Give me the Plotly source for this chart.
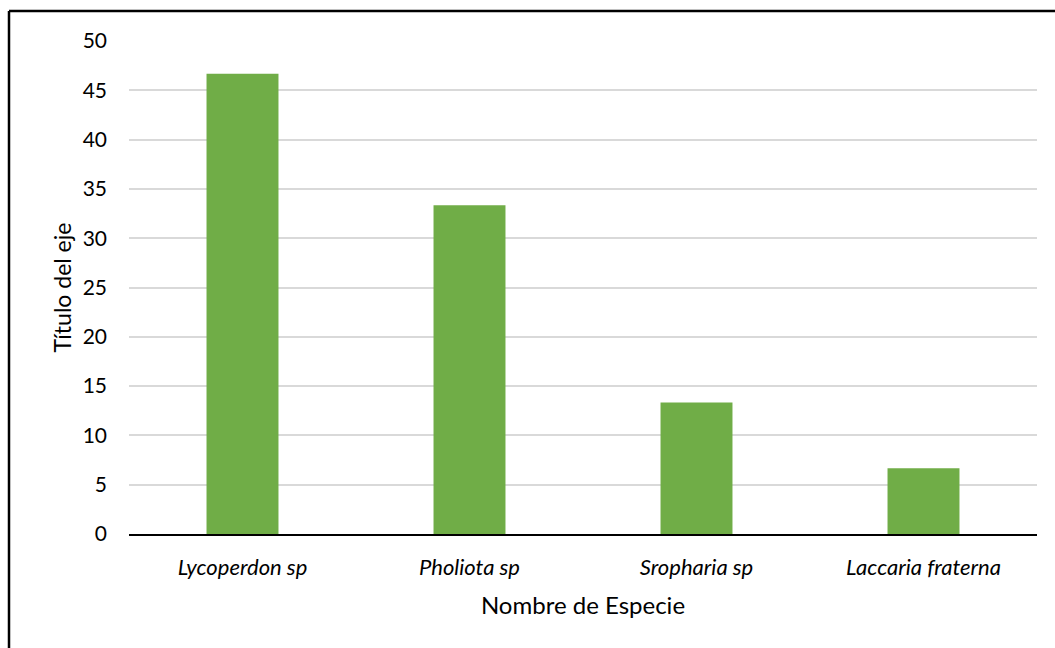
import plotly.graph_objects as go

categories = ["Lycoperdon sp", "Pholiota sp", "Sropharia sp", "Laccaria fraterna"]
values = [46.67, 33.33, 13.33, 6.67]
y_ticks = [0, 5, 10, 15, 20, 25, 30, 35, 40, 45, 50]

W, H = 1055, 648
ml, mr, mt, mb = 129, 18, 41, 114
pw, ph = W - ml - mr, H - mt - mb

FONT = "Lato, Carlito, Calibri, sans-serif"

fig = go.Figure(go.Bar(
    x=categories, y=values,
    marker=dict(color="#70ad47", line=dict(width=0)),
    width=0.317,
))

def px_x(x):
    return (x - ml) / pw

def px_y(y):
    return 1 - (y - mt) / ph

fig.update_layout(
    width=W, height=H,
    margin=dict(l=ml, r=mr, t=mt, b=mb),
    paper_bgcolor="white", plot_bgcolor="white",
    font=dict(family=FONT, color="#000000", size=21),
    showlegend=False,
    xaxis=dict(
        showgrid=False,
        showline=True, linecolor="#000000", linewidth=1.5,
        ticks="", tickfont=dict(size=22, style="italic"), ticklabelstandoff=13,
        title=dict(text="Nombre de Especie", font=dict(size=24), standoff=18),
    ),
    yaxis=dict(
        range=[0, 50], tickvals=y_ticks,
        showgrid=True, gridcolor="#d9d9d9", gridwidth=1.5,
        zeroline=False, showline=False, ticks="",
        tickfont=dict(size=21), ticklabelstandoff=21,
        title=dict(text="Título del eje", font=dict(size=23), standoff=4),
    ),
    shapes=[
        dict(type="line", xref="paper", yref="paper",
             x0=px_x(9), x1=px_x(1060), y0=px_y(11), y1=px_y(11),
             line=dict(color="#000000", width=2.5)),
        dict(type="line", xref="paper", yref="paper",
             x0=px_x(9), x1=px_x(9), y0=px_y(11), y1=px_y(660),
             line=dict(color="#000000", width=2.5)),
    ],
)

fig.write_html("out.html")
